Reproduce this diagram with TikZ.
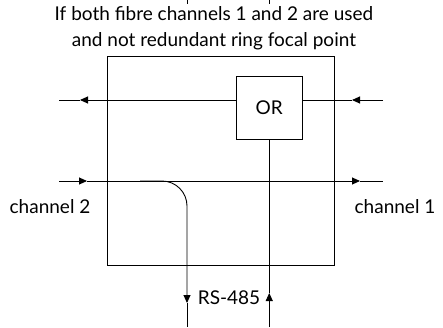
\documentclass[tikz,border=0pt]{standalone}
\usepackage{fontspec}
\setmainfont{Lato}
\usepackage{tikz}
\usetikzlibrary{arrows.meta,positioning,calc}
\tikzset{
    frame/.style={rectangle, draw, line width=0.9pt, minimum width=227pt, minimum height=209pt, inner sep=0},
    gate/.style={rectangle, draw, line width=0.9pt, fill=white, minimum width=65.5pt, minimum height=63pt, inner sep=0, font=\fontsize{19}{20}\selectfont},
    wire/.style={line width=0.9pt},
    flow/.style={-{Triangle[length=8pt, width=7pt]}, line width=0.9pt},
    lbl/.style={font=\fontsize{19}{26}\selectfont, align=center, inner sep=0},
}
\begin{document}
\begin{tikzpicture}[x=1pt,y=-1pt]
    \useasboundingbox (0,0) rectangle (443,327);

    \node[lbl] (title) at (214,28) {If both fibre channels 1 and 2 are used\\and not redundant ring focal point};
    \node[frame] (unit) at (220.5,160.5) {};
    \node[gate] (or) at (269.25,107.5) {OR};

    \coordinate (tl) at (59,100);
    \coordinate (tr) at (383,100);
    \coordinate (bl) at (59,181);
    \coordinate (br) at (383,181);
    \coordinate (la) at (80,100);
    \coordinate (ra) at (352,100);
    \coordinate (lb) at (87,181);
    \coordinate (rb) at (360,181);
    \coordinate (cs) at (140,181);
    \coordinate (da) at (187,303);
    \coordinate (db) at (187,327);
    \coordinate (ua) at (269.25,293);
    \coordinate (ub) at (269.25,327);

    % fibre ring, upper
    \draw[flow] (tl -| or.west) -- (la);
    \draw[wire] (la) -- (tl);
    \draw[flow] (tr) -- (ra);
    \draw[wire] (ra) -- (tl -| or.east);

    % fibre ring, lower
    \draw[flow] (bl) -- (lb);
    \draw[flow] (lb) -- (rb);
    \draw[wire] (rb) -- (br);

    % RS-485 pair
    \draw[flow, rounded corners=25pt] (cs) -| (da);
    \draw[wire] (da) -- (db);
    \draw[flow] (ub) -- (ua);
    \draw[wire] (ua) -- (or.south);

    % stubs at the top edge
    \draw[wire] (187,0) -- (187,3.5);
    \draw[wire] (269.25,0) -- (269.25,3.5);

    \node[lbl] (ch2) at (50,207) {channel 2};
    \node[lbl] (ch1) at (395,207) {channel 1};
    \node[lbl] (rs) at (229,298) {RS-485};
\end{tikzpicture}
\end{document}
